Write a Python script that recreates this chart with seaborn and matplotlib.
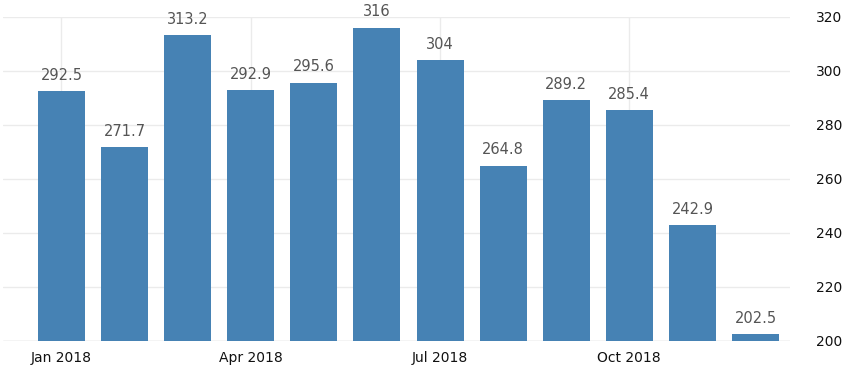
import matplotlib
matplotlib.use("Agg")
import matplotlib.pyplot as plt
import seaborn as sns
import pandas as pd

months = ["Jan 2018", "Feb 2018", "Mar 2018", "Apr 2018", "May 2018", "Jun 2018",
          "Jul 2018", "Aug 2018", "Sep 2018", "Oct 2018", "Nov 2018", "Dec 2018"]
values = [292.5, 271.7, 313.2, 292.9, 295.6, 316, 304, 264.8, 289.2, 285.4, 242.9, 202.5]
value_labels = ["292.5", "271.7", "313.2", "292.9", "295.6", "316", "304", "264.8",
                "289.2", "285.4", "242.9", "202.5"]
y_ticks = [200, 220, 240, 260, 280, 300, 320]

sns.set_theme(style="white")
plt.rcParams["font.family"] = ["DejaVu Sans"]

df = pd.DataFrame({"month": months, "value": values})

fig = plt.figure(figsize=(8.56, 3.8), dpi=100)
ax = fig.add_axes([3/856, 39/380, 787/856, (341-17)/380])

sns.barplot(data=df, x="month", y="value", color="#4682b4", saturation=1,
            width=0.745, ax=ax, zorder=3, linewidth=0, edgecolor="none")

ax.set_ylim(200, 320)
ax.set_xlim(-0.927, 11.547)

for i, (v, lab) in enumerate(zip(values, value_labels)):
    ax.text(i, v + 3.2, lab, ha="center", va="bottom", fontsize=10.5,
            color="#555555", clip_on=False, zorder=4)

ax.set_xticks([0, 3, 6, 9])
ax.set_xticklabels(["Jan 2018", "Apr 2018", "Jul 2018", "Oct 2018"], fontsize=10, color="#111111")
ax.set_yticks(y_ticks)
ax.set_yticklabels([str(t) for t in y_ticks], fontsize=10, color="#111111")
ax.yaxis.tick_right()
ax.tick_params(axis="y", length=0, pad=19)
ax.tick_params(axis="x", length=0, pad=7)
ax.set_xlabel("")
ax.set_ylabel("")

ax.grid(True, axis="both", color="#ebebeb", linewidth=1, zorder=0)
for s in ["top", "left", "right", "bottom"]:
    ax.spines[s].set_visible(False)
ax.axhline(200, color="#d8d8d8", linewidth=1, zorder=2)

fig.savefig("out.png", dpi=100)
